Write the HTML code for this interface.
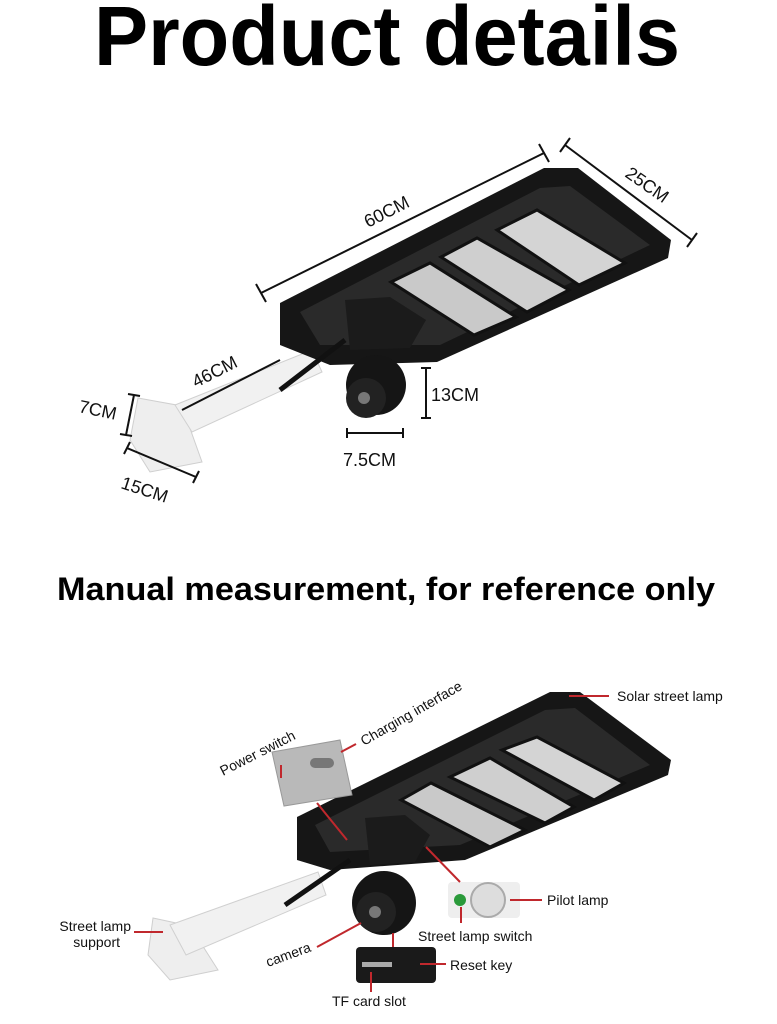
<!DOCTYPE html>
<html><head><meta charset="utf-8"><style>
html,body{margin:0;padding:0;background:#fff;}
svg{display:block;}
text{font-family:"Liberation Sans",sans-serif;}
</style></head><body>
<svg width="777" height="1024" viewBox="0 0 777 1024" xmlns="http://www.w3.org/2000/svg">
<rect width="777" height="1024" fill="#fff"/>
<text x="94" y="65" font-size="84" font-weight="bold" textLength="586" lengthAdjust="spacingAndGlyphs">Product details</text>

<!-- LAMP 1 -->
<g>
 <!-- bracket & arm -->
 <polygon points="138,398 182,406 202,462 150,472 130,440" fill="#eeeeee" stroke="#cfcfcf"/>
 <polygon points="175,405 312,350 322,372 192,432" fill="#f1f1f1" stroke="#d0d0d0"/>
 <!-- body -->
 <polygon points="280,303 544,168 578,168 671,240 668,258 437,362 330,365 280,345" fill="#161616"/>
 <polygon points="300,312 540,188 570,186 650,245 440,345 320,345" fill="#2a2a2a"/>
 <polygon points="391,282 430,263 516,317 474,335" fill="#c9c9c9" stroke="#111" stroke-width="3"/>
 <polygon points="441,257 477,238 569,290 527,312" fill="#cfcfcf" stroke="#111" stroke-width="3"/>
 <polygon points="497,230 537,210 625,263 579,285" fill="#d4d4d4" stroke="#111" stroke-width="3"/>
 <polygon points="345,300 390,297 426,320 410,348 350,350" fill="#1b1b1b"/>
 <!-- camera -->
 <ellipse cx="376" cy="385" rx="30" ry="30" fill="#151515"/>
 <ellipse cx="366" cy="398" rx="20" ry="20" fill="#222"/>
 <circle cx="364" cy="398" r="6" fill="#777"/>
 <line x1="280" y1="390" x2="345" y2="340" stroke="#111" stroke-width="5"/>
</g>
<!-- dimensions -->
<g stroke="#111" stroke-width="2" fill="none">
 <line x1="261" y1="293" x2="544" y2="153"/><line x1="256" y1="284" x2="266" y2="302"/><line x1="539" y1="144" x2="549" y2="162"/>
 <line x1="565" y1="145" x2="692" y2="240"/><line x1="560" y1="152" x2="570" y2="138"/><line x1="687" y1="247" x2="697" y2="233"/>
 <line x1="182" y1="410" x2="280" y2="360"/>
 <line x1="134" y1="395" x2="126" y2="435"/><line x1="128" y1="394" x2="140" y2="396"/><line x1="120" y1="434" x2="132" y2="436"/>
 <line x1="127" y1="448" x2="196" y2="477"/><line x1="124" y1="454" x2="130" y2="442"/><line x1="193" y1="483" x2="199" y2="471"/>
 <line x1="426" y1="368" x2="426" y2="418"/><line x1="421" y1="368" x2="431" y2="368"/><line x1="421" y1="418" x2="431" y2="418"/>
 <line x1="347" y1="433" x2="403" y2="433"/><line x1="347" y1="428" x2="347" y2="438"/><line x1="403" y1="428" x2="403" y2="438"/>
</g>
<g font-size="18" fill="#111">
 <text transform="translate(368,228) rotate(-27)">60CM</text>
 <text transform="translate(624,176) rotate(35)">25CM</text>
 <text transform="translate(196,388) rotate(-27)">46CM</text>
 <text transform="translate(78,412) rotate(12)">7CM</text>
 <text transform="translate(120,488) rotate(18)">15CM</text>
 <text x="431" y="401">13CM</text>
 <text x="343" y="466">7.5CM</text>
</g>

<text x="57" y="600" font-size="32" font-weight="bold" textLength="658" lengthAdjust="spacingAndGlyphs">Manual measurement, for reference only</text>

<!-- LAMP 2 -->
<g>
 <polygon points="153,918 190,926 218,970 170,980 148,955" fill="#eeeeee" stroke="#cfcfcf"/>
 <polygon points="170,925 318,872 326,895 186,955" fill="#f1f1f1" stroke="#d0d0d0"/>
 <polygon points="297,817 550,692 580,692 671,760 668,775 465,860 330,870 297,860" fill="#161616"/>
 <polygon points="315,825 545,710 575,708 650,765 460,845 330,852" fill="#2a2a2a"/>
 <polygon points="401,800 431,783 525,830 490,847" fill="#c9c9c9" stroke="#111" stroke-width="3"/>
 <polygon points="450,777 490,758 574,807 545,823" fill="#cfcfcf" stroke="#111" stroke-width="3"/>
 <polygon points="502,750 537,737 624,783 594,800" fill="#d4d4d4" stroke="#111" stroke-width="3"/>
 <polygon points="365,818 405,815 430,835 415,862 370,865" fill="#1b1b1b"/>
 <ellipse cx="384" cy="903" rx="32" ry="32" fill="#151515"/>
 <ellipse cx="376" cy="912" rx="20" ry="20" fill="#222"/>
 <circle cx="375" cy="912" r="6" fill="#777"/>
 <line x1="285" y1="905" x2="350" y2="860" stroke="#111" stroke-width="5"/>
 <!-- power/charging card -->
 <polygon points="272,752 340,740 352,795 284,806" fill="#b9b9b9" stroke="#999"/>
 <rect x="310" y="758" width="24" height="10" rx="5" fill="#777"/>
 <!-- pilot card -->
 <rect x="448" y="882" width="72" height="36" rx="4" fill="#eeeeee"/>
 <circle cx="460" cy="900" r="6" fill="#2a9a3a"/>
 <circle cx="488" cy="900" r="17" fill="#ddd" stroke="#aaa" stroke-width="2"/>
 <!-- sd card -->
 <rect x="356" y="947" width="80" height="36" rx="4" fill="#1a1a1a"/>
 <rect x="362" y="962" width="30" height="5" fill="#aaa"/>
</g>
<g stroke="#c0282d" stroke-width="2" fill="none">
 <line x1="569" y1="696" x2="609" y2="696"/>
 <line x1="341" y1="752" x2="356" y2="744"/>
 <line x1="317" y1="803" x2="347" y2="840"/>
 <line x1="281" y1="778" x2="281" y2="765"/>
 <line x1="510" y1="900" x2="542" y2="900"/>
 <line x1="461" y1="907" x2="461" y2="923"/>
 <line x1="426" y1="847" x2="460" y2="882"/>
 <line x1="134" y1="932" x2="163" y2="932"/>
 <line x1="317" y1="947" x2="361" y2="923"/>
 <line x1="393" y1="933" x2="393" y2="947"/>
 <line x1="420" y1="964" x2="446" y2="964"/>
 <line x1="371" y1="972" x2="371" y2="992"/>
</g>
<g font-size="14" fill="#111">
 <text x="617" y="701">Solar street lamp</text>
 <text transform="translate(364,746) rotate(-30)">Charging interface</text>
 <text transform="translate(223,776) rotate(-27)">Power switch</text>
 <text x="547" y="905">Pilot lamp</text>
 <text x="418" y="941">Street lamp switch</text>
 <text x="131" y="931" text-anchor="end">Street lamp</text>
 <text x="120" y="947" text-anchor="end">support</text>
 <text transform="translate(268,967) rotate(-20)">camera</text>
 <text x="450" y="970">Reset key</text>
 <text x="332" y="1006">TF card slot</text>
</g>
</svg>
</body></html>
